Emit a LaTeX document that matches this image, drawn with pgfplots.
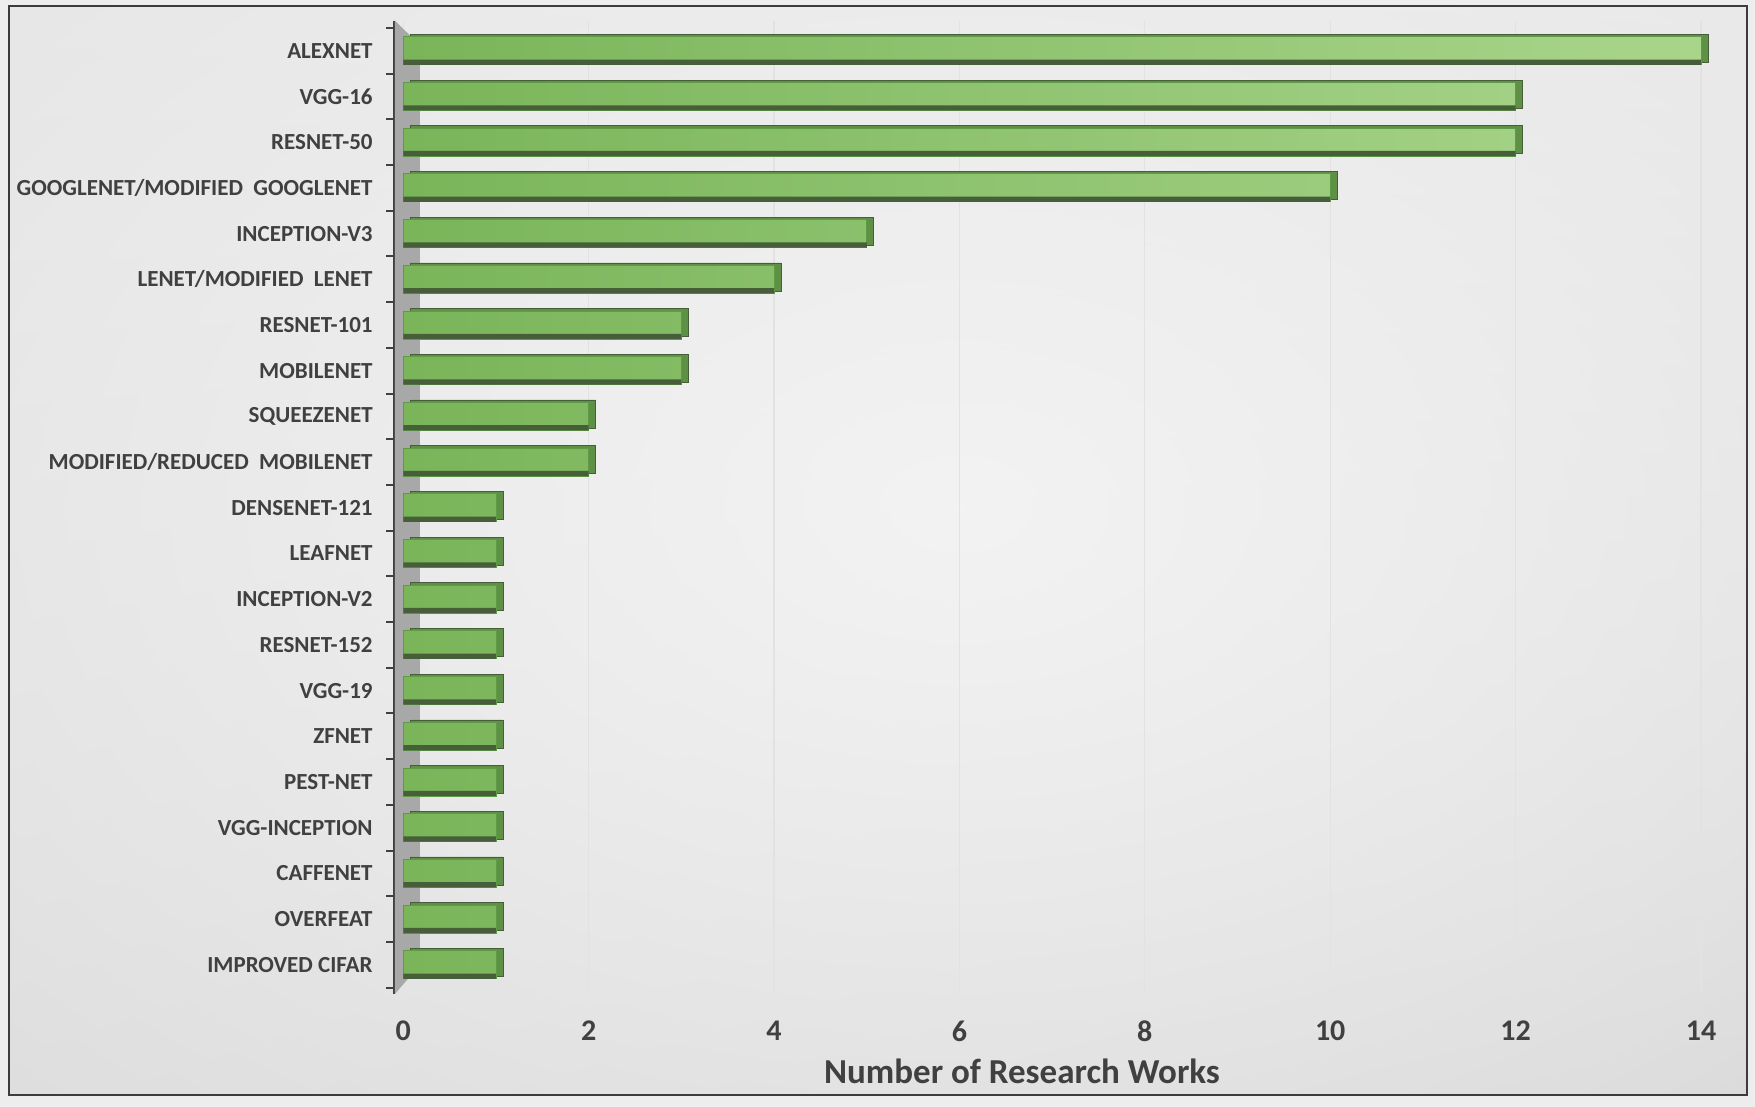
\documentclass[border=0pt]{standalone}
\usepackage{pgfplots}
\pgfplotsset{compat=1.18}
\usepackage{pgfplotstable}
\usetikzlibrary{shadings,fadings}
\usepackage{fontspec}
\setmainfont{Carlito}
\definecolor{txt}{HTML}{404040}
\definecolor{outerbg}{HTML}{EDEDED}
\definecolor{framecol}{HTML}{3C3C3C}
\definecolor{wallgray}{HTML}{A8A8A8}
\definecolor{barside}{HTML}{5E9046}
\definecolor{darkg}{HTML}{7AB55A}
\definecolor{lightg}{HTML}{A9D58B}
\definecolor{baredge}{HTML}{5F9A45}
\definecolor{bardark}{HTML}{465F3A}
\definecolor{bgul}{HTML}{DCDCDC}
\definecolor{bgur}{HTML}{DEDEDE}
\definecolor{bgll}{HTML}{CDCDCD}
\definecolor{bglr}{HTML}{C4C4C4}
\definecolor{bgglow}{HTML}{F3F3F3}
\definecolor{gridc}{HTML}{E2E2E2}

\pgfdeclareradialshading{glowshade}{\pgfpointorigin}{color(0bp)=(white); color(38bp)=(black); color(50bp)=(black)}
\pgfdeclarefading{glow}{\pgfuseshading{glowshade}}

\pgfplotstableread[col sep=comma]{
idx,val
0,14
1,12
2,12
3,10
4,5
5,4
6,3
7,3
8,2
9,2
10,1
11,1
12,1
13,1
14,1
15,1
16,1
17,1
18,1
19,1
20,1
}\data

\pgfplotsset{
  front/.style={xbar, bar width=14pt, bar shift=0pt, draw=baredge, line width=0.4pt, forget plot,
    left color=darkg, right color=lightg!#1!darkg}
}

\begin{document}
\begin{tikzpicture}
\fill[outerbg] (0,0) rectangle (877.5pt,553.5pt);
\shade[upper left=bgul, upper right=bgur, lower left=bgll, lower right=bglr]
  (4.5pt,6pt) rectangle (873.5pt,550.5pt);
\begin{scope}
\clip (4.5pt,6pt) rectangle (873.5pt,550.5pt);
\fill[bgglow, path fading=glow] (480pt,300pt) ellipse (800pt and 505pt);
\end{scope}
\draw[framecol, line width=1pt] (4.5pt,6pt) rectangle (873.5pt,550.5pt);
\begin{axis}[
  at={(197pt,56.5pt)}, anchor=south west,
  scale only axis, width=653.5pt, height=486.7pt,
  xmin=-0.1, xmax=14, ymin=-0.66, ymax=20.64,
  y dir=reverse,
  axis x line*=bottom, axis y line*=left,
  x axis line style={draw=none},
  y axis line style={draw=txt, line width=1.2pt, -},
  xtick={0,2,...,14},
  ytick={0,...,20},
  minor ytick={-0.5,0.5,...,20.5},
  major tick length=0pt,
  minor tick length=4pt,
  tick align=outside,
  ytick pos=left,
  minor tick style={draw=txt, line width=1pt},
  yticklabels={ALEXNET,VGG-16,RESNET-50,GOOGLENET/MODIFIED\ \ GOOGLENET,INCEPTION-V3,LENET/MODIFIED\ \ LENET,RESNET-101,MOBILENET,SQUEEZENET,MODIFIED/REDUCED\ \ MOBILENET,DENSENET-121,LEAFNET,INCEPTION-V2,RESNET-152,VGG-19,ZFNET,PEST-NET,VGG-INCEPTION,CAFFENET,OVERFEAT,IMPROVED CIFAR},
  yticklabel style={font=\fontsize{11.5}{12}\selectfont\bfseries, text=txt, anchor=east, inner sep=0pt, xshift=-10.5pt},
  xticklabel style={font=\fontsize{15}{15}\selectfont\bfseries, text=txt, anchor=center, yshift=-18.5pt},
  /pgf/number format/assume math mode=true,
  xmajorgrids,
  major x grid style={gridc, line width=0.6pt},
  xlabel={Number of Research Works},
  xlabel style={at={(axis description cs:0.4805,-0.0791)}, anchor=center, font=\fontsize{17.5}{18}\selectfont\bfseries, text=txt},
  clip=false,
]
\addplot[fill=wallgray, draw=none, forget plot] coordinates {(-0.09,-0.66) (0.18,-0.12) (0.18,20.0) (-0.09,20.64)} -- cycle;
% side and top faces
\addplot[xbar, bar width=14pt, bar shift=0pt, fill=barside, draw=bardark, line width=0.3pt, xshift=3.5pt, yshift=1.2pt, forget plot] table[x=val, y=idx] {\data};
% front faces, lit from the right
\addplot[front=100, restrict x to domain=13.5:14.5] table[x=val, y=idx] {\data};
\addplot[front=86, restrict x to domain=11.5:12.5] table[x=val, y=idx] {\data};
\addplot[front=71, restrict x to domain=9.5:10.5] table[x=val, y=idx] {\data};
\addplot[front=36, restrict x to domain=4.5:5.5] table[x=val, y=idx] {\data};
\addplot[front=29, restrict x to domain=3.5:4.5] table[x=val, y=idx] {\data};
\addplot[front=21, restrict x to domain=2.5:3.5] table[x=val, y=idx] {\data};
\addplot[front=14, restrict x to domain=1.5:2.5] table[x=val, y=idx] {\data};
\addplot[front=7, restrict x to domain=0.5:1.5] table[x=val, y=idx] {\data};
% dark bottom strip
\addplot[xbar, bar width=2.6pt, bar shift=0pt, fill=bardark, draw=none, yshift=-5.7pt, forget plot] table[x=val, y=idx] {\data};
\end{axis}
\end{tikzpicture}
\end{document}
